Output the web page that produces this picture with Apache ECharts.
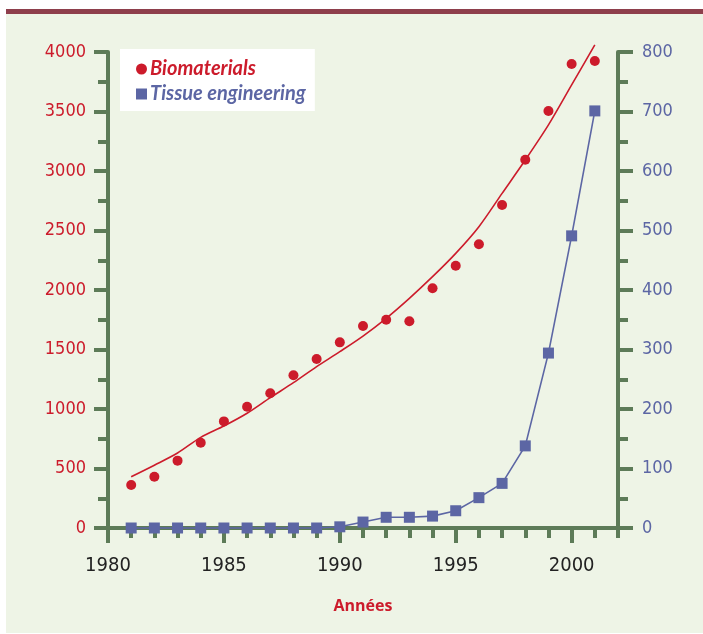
<!DOCTYPE html>
<html>
<head>
<meta charset="utf-8">
<script src="https://cdn.jsdelivr.net/npm/echarts@6/dist/echarts.min.js"></script>
<style>
html,body{margin:0;padding:0;background:#fff;}
#c{width:703px;height:634px;}
</style>
</head>
<body>
<div id="c"></div>
<script>
var years = [1981,1982,1983,1984,1985,1986,1987,1988,1989,1990,1991,1992,1993,1994,1995,1996,1997,1998,1999,2000,2001];
var biomaterials = [361,431,566,717,896,1019,1132,1283,1420,1560,1697,1750,1737,2014,2204,2384,2714,3095,3504,3899,3924];
var biomaterialsTrend = [431,528,630,762,857,964,1095,1221,1356,1482,1613,1762,1930,2112,2308,2532,2812,3092,3387,3723,4060];
var tissueEngineering = [0,0,0,0,0,0,0,0,0,2,10,18,18,20,29,51,75,138,294,491,701];
var xMajorTicks = [1980,1985,1990,1995,2000];
var xMinorTicks = [1981,1982,1983,1984,1986,1987,1988,1989,1991,1992,1993,1994,1996,1997,1998,1999,2001,2002];

var GREEN = '#5d7b58', RED = '#cc1b2b', BLUE = '#5c66a4';
var NUMFONT = '"DejaVu Sans Condensed","DejaVu Sans",sans-serif';

function pairs(ys){ return years.map(function(y,i){ return [y, ys[i]]; }); }
function plain(v){ return String(v); }

var chart = echarts.init(document.getElementById('c'));
chart.setOption({
  animation: false,
  graphic: [
    {type:'rect', z:-10, shape:{x:6,y:14,width:697,height:619}, style:{fill:'#eef4e6'}},
    {type:'rect', z:-9, shape:{x:6,y:9,width:697,height:5}, style:{fill:'#8e3f4c'}}
  ],
  grid: {left:108, right:85, top:52, bottom:106},
  legend: {
    orient:'vertical', left:120, top:49,
    backgroundColor:'#ffffff', padding:[10,9,7,16], itemGap:5,
    itemWidth:11, itemHeight:11,
    data:[
      {name:'Biomaterials', icon:'circle', textStyle:{color:RED}},
      {name:'Tissue engineering', icon:'rect', textStyle:{color:BLUE}}
    ],
    textStyle:{fontFamily:'Lato, "Open Sans", sans-serif', fontWeight:'bold', fontStyle:'italic', fontSize:20, padding:[0,0,0,-2]}
  },
  xAxis: [
    {
      type:'value', min:1980, max:2002, interval:5, position:'bottom', offset:0,
      name:'Années', nameLocation:'middle', nameGap:70,
      nameTextStyle:{color:RED, fontFamily:'"Open Sans", sans-serif', fontWeight:'bold', fontSize:16},
      axisLine:{show:true, onZero:false, lineStyle:{color:GREEN, width:4}},
      axisTick:{show:true, inside:false, length:15, lineStyle:{color:GREEN, width:4}, customValues:xMajorTicks},
      axisLabel:{show:true, margin:28, color:'#222', fontFamily:NUMFONT, fontSize:20, customValues:xMajorTicks, formatter:plain},
      splitLine:{show:false}
    },
    {
      type:'value', min:1980, max:2002, interval:1, position:'bottom', offset:0,
      axisLine:{show:false, onZero:false},
      axisTick:{show:true, inside:false, length:10, lineStyle:{color:GREEN, width:4}, customValues:xMinorTicks},
      axisLabel:{show:false},
      splitLine:{show:false}
    }
  ],
  yAxis: [
    {
      type:'value', min:0, max:4000, interval:500, position:'left',
      axisLine:{show:true, lineStyle:{color:GREEN, width:4}},
      axisTick:{show:true, inside:false, length:14, lineStyle:{color:GREEN, width:4}},
      minorTick:{show:true, splitNumber:2, length:10, lineStyle:{color:GREEN, width:4}},
      axisLabel:{margin:22, color:RED, fontFamily:NUMFONT, fontSize:18, formatter:plain},
      splitLine:{show:false}
    },
    {
      type:'value', min:0, max:800, interval:100, position:'right',
      axisLine:{show:true, lineStyle:{color:GREEN, width:4}},
      axisTick:{show:true, inside:false, length:15, lineStyle:{color:GREEN, width:4}},
      minorTick:{show:true, splitNumber:2, length:10, lineStyle:{color:GREEN, width:4}},
      axisLabel:{margin:24, color:BLUE, fontFamily:NUMFONT, fontSize:18, formatter:plain},
      splitLine:{show:false}
    }
  ],
  series: [
    {
      name:'trend', type:'line', xAxisIndex:0, yAxisIndex:0, data:pairs(biomaterialsTrend),
      showSymbol:false, smooth:0.3, clip:false, lineStyle:{color:RED, width:1.6}, z:3, silent:true
    },
    {
      name:'Biomaterials', type:'scatter', xAxisIndex:0, yAxisIndex:0, data:pairs(biomaterials),
      symbol:'circle', symbolSize:10, itemStyle:{color:RED, opacity:1}, z:4
    },
    {
      name:'Tissue engineering', type:'line', xAxisIndex:0, yAxisIndex:1, data:pairs(tissueEngineering),
      symbol:'rect', symbolSize:11, showAllSymbol:true, itemStyle:{color:BLUE, opacity:1}, lineStyle:{color:BLUE, width:1.6}, z:5, clip:false
    }
  ]
});
</script>
</body>
</html>
